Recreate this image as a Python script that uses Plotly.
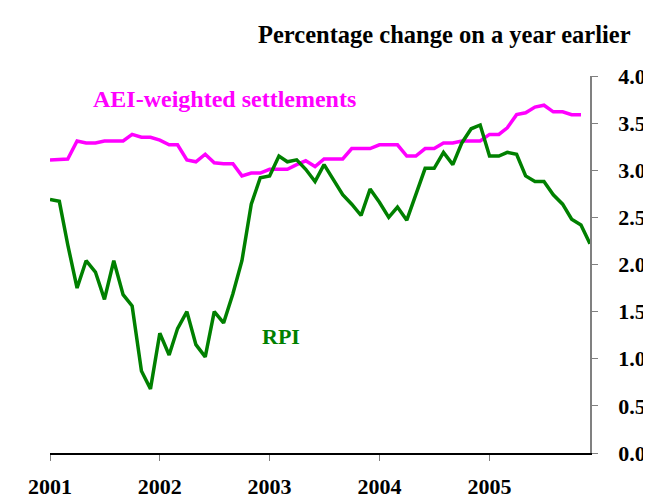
import pandas as pd
import plotly.graph_objects as go

months_rpi = pd.date_range("2001-01-01", periods=60, freq="MS")
months_aei = months_rpi[:59]

rpi = [2.69, 2.67, 2.21, 1.75, 2.04, 1.92, 1.63, 2.04, 1.68, 1.56, 0.87, 0.68,
       1.27, 1.04, 1.32, 1.50, 1.15, 1.02, 1.50, 1.38, 1.69, 2.04, 2.64, 2.92,
       2.94, 3.15, 3.09, 3.11, 3.01, 2.88, 3.06, 2.90, 2.74, 2.64, 2.52, 2.80,
       2.66, 2.50, 2.61, 2.47, 2.74, 3.02, 3.02, 3.19, 3.06, 3.29, 3.44, 3.48,
       3.15, 3.15, 3.19, 3.17, 2.94, 2.88, 2.88, 2.74, 2.64, 2.48, 2.42, 2.22]

aei = [3.11, 3.12, 3.12, 3.31, 3.29, 3.29, 3.31, 3.31, 3.31, 3.38, 3.35, 3.35,
       3.32, 3.27, 3.27, 3.11, 3.09, 3.17, 3.08, 3.07, 3.07, 2.94, 2.97, 2.97,
       3.01, 3.01, 3.01, 3.06, 3.10, 3.04, 3.12, 3.12, 3.12, 3.23, 3.23, 3.23,
       3.27, 3.27, 3.27, 3.15, 3.15, 3.23, 3.23, 3.29, 3.29, 3.31, 3.31, 3.31,
       3.38, 3.38, 3.45, 3.59, 3.61, 3.67, 3.69, 3.62, 3.62, 3.59, 3.59]

year_ticks = ["2001-01-01", "2002-01-01", "2003-01-01", "2004-01-01", "2005-01-01"]
year_labels = ["2001", "2002", "2003", "2004", "2005"]
y_ticks = [0, 0.5, 1.0, 1.5, 2.0, 2.5, 3.0, 3.5, 4.0]
y_labels = ["0.0", "0.5", "1.0", "1.5", "2.0", "2.5", "3.0", "3.5", "4.0"]

FONT = "Liberation Serif"

fig = go.Figure()
fig.add_trace(go.Scatter(x=months_aei, y=aei, mode="lines",
                         line=dict(color="#FF00FF", width=3.5), name="AEI-weighted settlements"))
fig.add_trace(go.Scatter(x=months_rpi, y=rpi, mode="lines",
                         line=dict(color="#008000", width=3.5), name="RPI"))

fig.update_layout(
    width=651, height=500,
    margin=dict(l=42, r=69, t=68, b=55, autoexpand=False),
    paper_bgcolor="white", plot_bgcolor="white",
    showlegend=False,
    font=dict(family=FONT, size=22, color="black", weight="bold"),
    xaxis=dict(
        type="date", automargin=False,
        range=["2001-01-01", "2005-12-01"],
        tickmode="array", tickvals=year_ticks, ticktext=year_labels,
        showgrid=False, zeroline=False,
        showline=True, linecolor="black", linewidth=2,
        ticks="outside", ticklen=6, tickcolor="#808080", tickwidth=1,
        ticklabelstandoff=7,
        tickfont=dict(family=FONT, size=22, color="black", weight="bold"),
    ),
    yaxis=dict(
        range=[0, 4.0], side="right", automargin=False,
        tickmode="array", tickvals=y_ticks, ticktext=y_labels,
        showgrid=False, zeroline=False,
        showline=True, linecolor="#808080", linewidth=1.5,
        ticks="outside", ticklen=6, tickcolor="#808080", tickwidth=1,
        ticklabelstandoff=16,
        tickfont=dict(family=FONT, size=22, color="black", weight="bold"),
    ),
    annotations=[
        dict(text="Percentage change on a year earlier", xref="paper", yref="paper",
             x=1.08, y=1.11, xanchor="right", yanchor="middle", showarrow=False,
             font=dict(family=FONT, size=24.5, color="black", weight="bold")),
        dict(text="AEI-weighted settlements", xref="paper", yref="paper",
             x=0.324, y=0.938, xanchor="center", yanchor="middle", showarrow=False,
             font=dict(family=FONT, size=24, color="#FF00FF", weight="bold")),
        dict(text="RPI", xref="paper", yref="paper",
             x=0.428, y=0.308, xanchor="center", yanchor="middle", showarrow=False,
             font=dict(family=FONT, size=22, color="#008000", weight="bold")),
    ],
)

fig.write_html("out.html")
